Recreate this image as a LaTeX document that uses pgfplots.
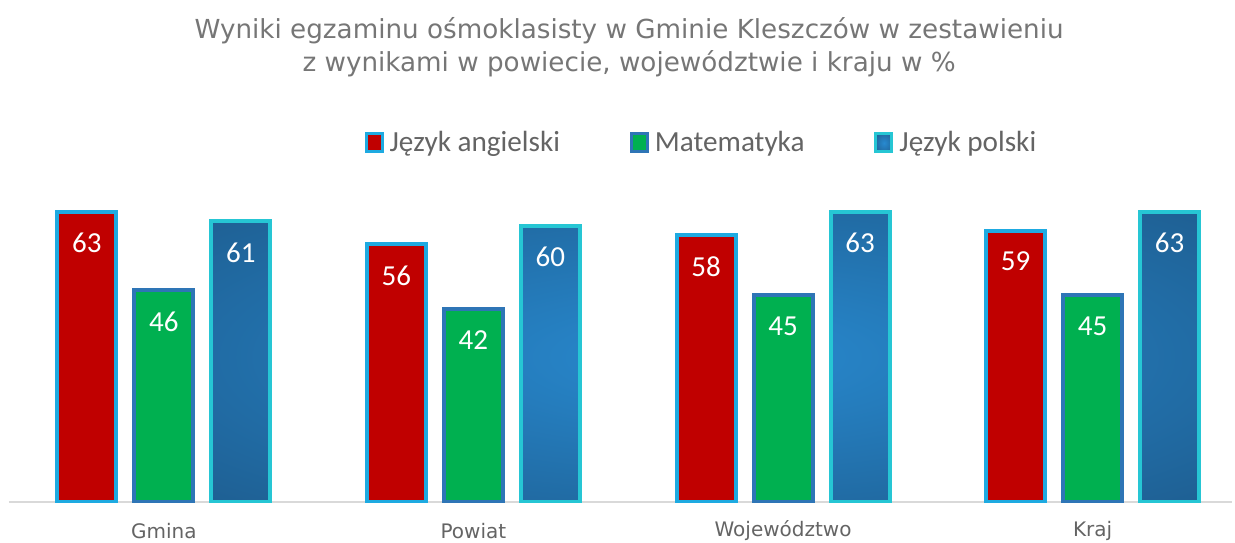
\documentclass[border=0pt]{standalone}
\usepackage{fontspec}
\setmainfont{DejaVu Sans}
\newfontfamily\calfont{Carlito}
\usepackage{pgfplots}
\pgfplotsset{compat=1.18}

\definecolor{angRed}{RGB}{192,0,0}
\definecolor{angEdge}{RGB}{30,170,225}
\definecolor{matGreen}{RGB}{0,176,80}
\definecolor{matEdge}{RGB}{46,117,182}
\definecolor{polIn}{RGB}{40,138,208}
\definecolor{polOut}{RGB}{26,78,122}
\definecolor{polEdge}{RGB}{38,198,212}
\definecolor{titleGray}{RGB}{118,118,118}
\definecolor{textGray}{RGB}{100,100,100}

\pgfdeclareradialshading{barglow}{\pgfpoint{0bp}{0bp}}{%
  color(0bp)=(polIn); color(50bp)=(polOut); color(72bp)=(polOut)}

\begin{document}
\begin{tikzpicture}
\useasboundingbox (-4.5pt,-20pt) rectangle (613pt,251pt);
\begin{axis}[
    scale only axis,
    width=611.5pt, height=161pt,
    ybar=9pt,
    bar width=29.5pt,
    xmin=-0.5, xmax=3.45,
    ymin=0, ymax=70,
    enlarge x limits=false,
    enlarge y limits=false,
    axis y line=none,
    axis x line*=bottom,
    x axis line style={-, draw=black!15, line width=1pt},
    xtick=data,
    xticklabels={Gmina,Powiat,Województwo,Kraj},
    major tick length=0pt,
    xticklabel style={font=\fontsize{10}{12}\selectfont, text=textGray, anchor=center, yshift=-14.5pt},
    /pgf/number format/assume math mode=true,
    nodes near coords,
    every node near coord/.append style={font=\calfont\fontsize{14.5}{16}\selectfont, text=white, anchor=center, yshift=-15.5pt},
    title={Wyniki egzaminu ośmoklasisty w Gminie Kleszczów w zestawieniu\\z wynikami w powiecie, województwie i kraju w \%},
    title style={font=\fontsize{13.1}{16.5}\selectfont, text=titleGray, align=center, at={(0.507,1.376)}, anchor=center},
    legend style={at={(0.567,1.115)}, anchor=center, draw=none, fill=none,
        legend columns=-1, font=\calfont\fontsize{14.6}{16}\selectfont, text=textGray,
        /tikz/every odd column/.append style={column sep=1pt},
        /tikz/every even column/.append style={column sep=33pt}},
    legend image code/.code={\draw[#1, line width=1.5pt] (0pt,-4.5pt) rectangle (8pt,4.5pt);},
]
\addplot[fill=angRed, draw=angEdge, line width=2pt] coordinates {(0,63) (1,56) (2,58) (3,59)};
\addplot[fill=matGreen, draw=matEdge, line width=2pt] coordinates {(0,46) (1,42) (2,45) (3,45)};
\addplot[shading=barglow, draw=polEdge, line width=2pt] coordinates {(0,61) (1,60) (2,63) (3,63)};
\legend{Język angielski, Matematyka, Język polski}
\end{axis}
\end{tikzpicture}
\end{document}
